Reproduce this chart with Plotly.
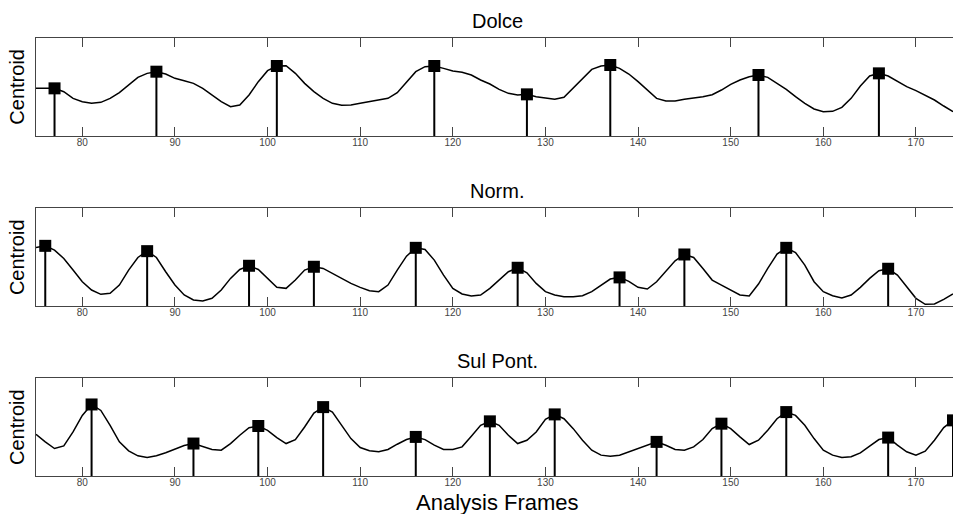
import plotly.graph_objects as go

# Analysis frames 75..174
frames = list(range(75, 175))

dolce = [143, 143, 143, 133, 113, 103, 98, 101, 113, 130, 153, 176, 188, 193, 186, 173, 166, 158, 143, 123,
         103, 88, 93, 123, 163, 196, 210, 211, 188, 158, 133, 113, 98, 92, 93, 98, 103, 106, 113, 130,
         163, 193, 208, 210, 203, 195, 191, 183, 168, 156, 140, 128, 123, 125, 118, 113, 110, 116, 143, 173,
         200, 210, 213, 203, 186, 163, 138, 113, 105, 105, 110, 113, 118, 124, 138, 155, 168, 178, 183, 176,
         158, 140, 118, 98, 81, 73, 74, 86, 113, 150, 180, 188, 180, 163, 148, 136, 123, 108, 90, 73]

norm = [177, 182, 169, 144, 109, 74, 49, 36, 39, 64, 109, 147, 166, 147, 104, 64, 34, 19, 16, 24,
        49, 84, 111, 122, 111, 84, 57, 54, 79, 109, 119, 114, 99, 84, 69, 57, 47, 44, 64, 109,
        151, 176, 171, 139, 94, 54, 37, 31, 34, 54, 79, 104, 116, 101, 69, 44, 34, 29, 29, 32,
        44, 64, 82, 87, 75, 57, 52, 74, 104, 137, 156, 147, 114, 79, 64, 49, 34, 31, 67, 114,
        157, 176, 162, 124, 74, 44, 32, 25, 34, 57, 84, 107, 113, 94, 59, 24, 6, 7, 21, 37]

sul_pont = [126, 103, 83, 91, 133, 183, 216, 198, 153, 103, 76, 61, 56, 61, 70, 81, 92, 98, 90, 80,
            78, 98, 123, 146, 151, 138, 116, 98, 110, 148, 190, 208, 193, 153, 113, 86, 76, 73, 80, 96,
            110, 118, 110, 93, 80, 80, 88, 120, 153, 165, 153, 123, 98, 108, 133, 171, 186, 173, 143, 108,
            78, 63, 60, 63, 73, 83, 93, 103, 93, 80, 78, 88, 110, 143, 158, 143, 118, 95, 108, 138,
            173, 193, 183, 153, 113, 78, 63, 56, 58, 70, 90, 110, 116, 93, 73, 63, 75, 108, 146, 168]

dolce_peaks = [77, 88, 101, 118, 128, 137, 153, 166]
norm_peaks = [76, 87, 98, 105, 116, 127, 138, 145, 156, 167]
sul_peaks = [81, 92, 99, 106, 116, 124, 131, 142, 149, 156, 167, 174]

titles = ["Dolce", "Norm.", "Sul Pont."]
series = [dolce, norm, sul_pont]
peaks = [dolce_peaks, norm_peaks, sul_peaks]

FONT = "Liberation Sans, Arial, sans-serif"
W, H = 953, 514
# plot areas in pixels (top, bottom)
areas = [(37.7, 136.0), (208.3, 306.3), (378.3, 476.0)]

fig = go.Figure()
for i, (vals, pk) in enumerate(zip(series, peaks)):
    xa = "x" if i == 0 else f"x{i+1}"
    ya = "y" if i == 0 else f"y{i+1}"
    fig.add_trace(go.Scatter(x=frames, y=vals, mode="lines",
                             line=dict(color="black", width=1.5),
                             xaxis=xa, yaxis=ya, showlegend=False, hoverinfo="skip"))
    sx, sy = [], []
    mx, my = [], []
    for f in pk:
        v = vals[frames.index(f)]
        sx += [f, f, None]
        sy += [0, v, None]
        mx.append(f)
        my.append(v)
    fig.add_trace(go.Scatter(x=sx, y=sy, mode="lines",
                             line=dict(color="black", width=2),
                             xaxis=xa, yaxis=ya, showlegend=False, hoverinfo="skip"))
    fig.add_trace(go.Scatter(x=mx, y=my, mode="markers",
                             marker=dict(symbol="square", size=12, color="black"),
                             xaxis=xa, yaxis=ya, showlegend=False, cliponaxis=False))

layout = dict(
    width=W, height=H,
    margin=dict(l=36, r=0, t=0, b=0),
    paper_bgcolor="white", plot_bgcolor="white",
    font=dict(family=FONT, color="black"),
    showlegend=False,
)
annotations = []
for i, (top, bot) in enumerate(areas):
    sfx = "" if i == 0 else str(i + 1)
    layout["xaxis" + sfx] = dict(
        range=[75, 174], domain=[0, 1], anchor="y" + sfx,
        showline=True, linecolor="#444", linewidth=1, mirror="ticks",
        ticks="inside", ticklen=9, tickcolor="#444", tickwidth=1,
        tickvals=[80, 90, 100, 110, 120, 130, 140, 150, 160, 170],
        tickfont=dict(size=10, color="#444", family=FONT),
        ticklabelstandoff=-3,
        showgrid=False, zeroline=False, fixedrange=True,
    )
    layout["yaxis" + sfx] = dict(
        range=[0, 295], domain=[1 - bot / H, 1 - top / H], anchor="x" + sfx,
        showline=True, linecolor="#444", linewidth=1, mirror=True,
        ticks="", showticklabels=False, showgrid=False, zeroline=False,
        title=dict(text="Centroid", font=dict(size=20, family=FONT), standoff=4),
        fixedrange=True,
    )
    annotations.append(dict(text=titles[i], xref="paper", yref="paper",
                            x=0.503, y=1 - (top - 17) / H, xanchor="center", yanchor="middle",
                            showarrow=False, font=dict(size=20, family=FONT)))
annotations.append(dict(text="Analysis Frames", xref="paper", yref="paper",
                        x=0.503, y=1 - 502 / H, xanchor="center", yanchor="middle",
                        showarrow=False, font=dict(size=22, family=FONT)))
layout["annotations"] = annotations
fig.update_layout(**layout)

fig.write_html("out.html")
